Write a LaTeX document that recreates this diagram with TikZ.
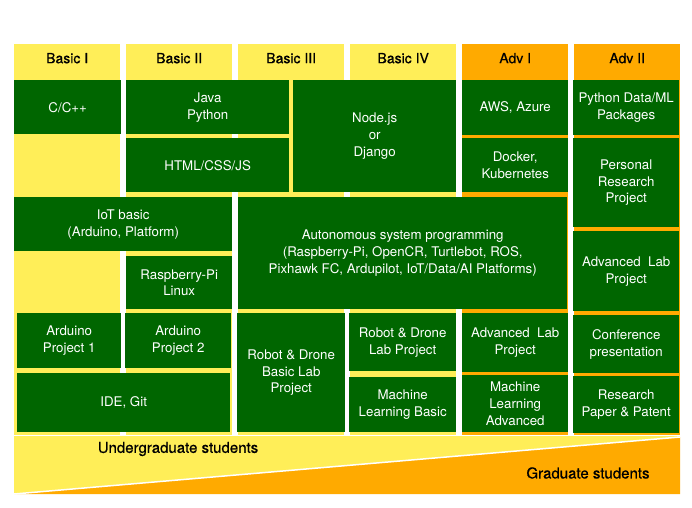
\documentclass[tikz,border=0pt]{standalone}
\usepackage{fontspec}
\setmainfont{TeX Gyre Heros}
\newfontfamily\headfont{TeX Gyre Heros}[FakeBold=0.6]
\usetikzlibrary{positioning}

\definecolor{ggreen}{RGB}{0,102,0}
\definecolor{yel}{RGB}{255,238,88}
\definecolor{org}{RGB}{255,170,0}

\begin{document}
\begin{tikzpicture}[
    x=1pt, y=-1pt,
    sz/.style 2 args={minimum width=#1pt, minimum height=#2pt},
    cell/.style={fill=ggreen, text=white, anchor=north west, inner sep=0pt, align=center, font=\fontsize{13.3}{16.8}\selectfont},
    head/.style={anchor=north west, inner sep=0pt, sz={106}{28}, font=\headfont\fontsize{14}{16}\selectfont},
    band/.style={inner sep=0pt, font=\headfont\fontsize{15}{17}\selectfont}
]
\useasboundingbox[fill=white] (0,0) rectangle (692,507);

% columns and headers
\foreach \i/\lbl/\col in {0/Basic I/yel, 1/Basic II/yel, 2/Basic III/yel, 3/Basic IV/yel, 4/Adv I/org, 5/Adv II/org} {
    \fill[\col] ({14+112*\i},44) rectangle ({120+112*\i},435);
    \node[head] (h\i) at ({14+112*\i},44) {\lbl};
}

% Basic I / II
\node[cell, sz={107}{54}] (cpp) at (14,80) {C/C++};
\node[cell, sz={163}{54}] (javapy) at (126,80) {Java\\Python};
\node[cell, sz={163}{54}] (html) at (126,138) {HTML/CSS/JS};
\node[cell, sz={218}{54}] (iot) at (14,197) {IoT basic\\(Arduino, Platform)};
\node[cell, sz={106}{53}] (rpi) at (126,256) {Raspberry-Pi\\Linux};
\node[cell, sz={104}{55}] (ard1) at (17,313) {Arduino\\Project 1};
\node[cell, sz={106}{55}] (ard2) at (125,313) {Arduino\\Project 2};
\node[cell, sz={213}{59}] (ide) at (17,373) {IDE, Git};

% Basic III / IV
\node[cell, sz={163}{112}] (nodejs) at (293,80) {Node.js\\or\\Django};
\node[cell, sz={329}{112}] (auto) at (238,197) {Autonomous system programming\\(Raspberry-Pi, OpenCR, Turtlebot, ROS,\\Pixhawk FC, Ardupilot, IoT/Data/AI Platforms)};
\node[cell, sz={108}{119}] (rdbasic) at (237,313) {Robot \& Drone\\Basic Lab\\Project};
\node[cell, sz={107}{58}] (rdlab) at (349,313) {Robot \& Drone\\Lab Project};
\node[cell, sz={107}{55}] (mlbasic) at (349,377) {Machine\\Learning Basic};

% Adv I
\node[cell, sz={106}{55}] (aws) at (462,80) {AWS, Azure};
\node[cell, sz={106}{54}] (docker) at (462,138) {Docker,\\Kubernetes};
\node[cell, sz={106}{59}] (advlab1) at (462,313) {Advanced~ Lab\\Project};
\node[cell, sz={106}{57}] (mladv) at (462,375) {Machine\\Learning\\Advanced};

% Adv II
\node[cell, sz={106}{55}] (pydata) at (573,80) {Python Data/ML\\Packages};
\node[cell, sz={106}{89}] (personal) at (573,138) {Personal\\Research\\Project};
\node[cell, sz={106}{80}] (advlab2) at (573,231) {Advanced~ Lab\\Project};
\node[cell, sz={106}{58}] (conf) at (573,315) {Conference\\presentation};
\node[cell, sz={106}{57}] (paper) at (573,376) {Research\\Paper \& Patent};

% students band
\fill[yel] (14,436) rectangle (680,494);
\fill[org] (14,494) -- (680,437) -- (680,494) -- cycle;
\draw[white, line width=1.5pt] (14,494) -- (680,437);
\node[band] (ugrad) at (178,449) {Undergraduate students};
\node[band] (grad) at (588,473) {Graduate students};
\end{tikzpicture}
\end{document}
